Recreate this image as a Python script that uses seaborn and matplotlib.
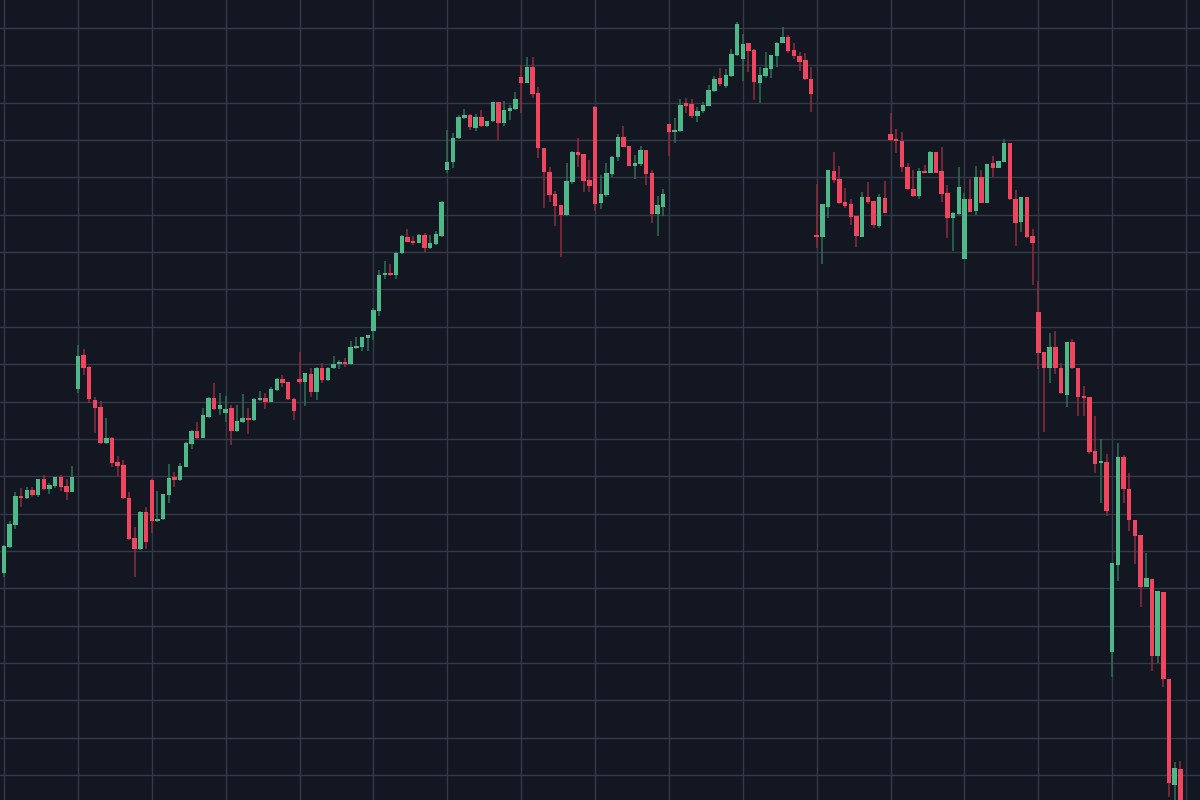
import matplotlib
matplotlib.use("Agg")
import numpy as np
import pandas as pd
import seaborn as sns
import matplotlib.pyplot as plt

opens = [
    22.73, 25.33, 27.5, 30.4, 30.2, 31.03, 30.5, 32.07, 31.07, 31.43,
    32.27, 31.43, 30.83, 41.07, 44.47, 43.33, 40.0, 39.27, 35.67, 36.2,
    33.77, 33.5, 30.23, 26.17, 25.07, 28.8, 32.0, 27.87, 28.07, 30.53,
    32.27, 32.0, 33.33, 35.6, 36.93, 36.23, 38.27, 40.23, 39.1, 38.67,
    39.2, 36.93, 37.8, 38.17, 38.0, 40.0, 40.23, 39.83, 41.0, 42.13,
    41.77, 40.13, 42.13, 41.83, 42.6, 40.83, 43.17, 42.0, 43.17, 43.6,
    43.8, 43.6, 45.2, 45.33, 46.17, 46.93, 48.9, 52.47, 52.67, 52.47,
    54.67, 56.3, 55.9, 55.73, 56.47, 55.17, 55.6, 56.43, 63.0, 63.8,
    66.23, 68.23, 68.47, 67.17, 68.33, 67.4, 67.87, 69.77, 67.67, 68.93,
    69.1, 72.33, 71.73, 73.27, 70.73, 65.17, 62.83, 60.57, 59.47, 58.47,
    61.83, 64.83, 64.6, 62.0, 69.33, 59.67, 60.5, 62.6, 64.27, 66.33,
    65.4, 63.43, 63.6, 65.0, 62.67, 58.6, 59.33, 67.57, 66.77, 66.9,
    69.53, 69.6, 68.4, 68.93, 69.43, 70.9, 72.23, 71.43, 72.4, 74.5,
    74.1, 75.7, 75.03, 71.73, 72.4, 73.1, 74.43, 75.73, 76.33, 75.03,
    74.43, 74.0, 72.1, 56.5, 56.27, 59.33, 62.93, 62.1, 59.83, 59.57,
    58.4, 56.33, 60.27, 59.93, 57.4, 60.23, 66.6, 66.1, 65.93, 63.33,
    61.07, 60.4, 62.93, 62.73, 64.8, 62.93, 60.67, 58.23, 58.6, 54.13,
    60.07, 58.9, 62.27, 59.73, 63.73, 63.23, 63.83, 65.67, 60.07, 57.8,
    60.27, 56.4, 48.77, 44.83, 43.23, 45.27, 43.23, 40.53, 45.77, 43.17,
    40.43, 40.33, 34.9, 33.67, 33.77, 14.83, 23.53, 34.33, 31.13, 28.0,
    26.5, 21.33, 22.07, 14.43, 20.83, 12.07, 1.5, 3.07,
]
highs = [
    25.5, 27.9, 30.83, 31.17, 31.33, 31.33, 32.13, 32.47, 31.67, 32.33,
    32.53, 32.07, 33.4, 45.5, 45.07, 43.4, 40.33, 39.93, 38.17, 36.3,
    34.4, 34.0, 30.77, 27.33, 28.9, 29.27, 32.1, 30.9, 30.65, 33.6,
    32.83, 33.67, 35.8, 37.0, 37.77, 39.17, 40.35, 41.73, 40.67, 40.4,
    39.5, 39.5, 40.57, 39.17, 40.2, 40.93, 40.67, 41.27, 42.2, 42.53,
    41.8, 40.2, 44.77, 42.7, 43.23, 43.33, 43.67, 43.33, 44.4, 44.0,
    44.2, 45.9, 46.27, 46.3, 46.5, 49.17, 53.0, 53.87, 53.6, 54.8,
    56.5, 57.07, 56.4, 56.6, 56.67, 56.5, 56.93, 59.9, 67.0, 66.73,
    68.5, 69.1, 68.6, 68.6, 69.0, 67.9, 69.8, 69.8, 69.93, 69.5,
    70.77, 73.5, 74.3, 74.3, 71.33, 65.2, 63.33, 60.9, 59.5, 63.67,
    64.9, 66.23, 64.65, 64.0, 69.4, 62.5, 63.73, 64.4, 66.57, 67.4,
    65.45, 64.5, 65.4, 65.05, 63.0, 60.4, 61.07, 67.6, 68.17, 70.07,
    70.17, 70.07, 69.27, 69.83, 71.5, 72.43, 73.23, 73.1, 75.07, 77.83,
    76.57, 75.75, 75.1, 73.33, 74.77, 74.55, 75.8, 77.27, 76.5, 75.67,
    74.77, 74.67, 73.33, 61.6, 59.6, 63.05, 64.83, 63.43, 61.23, 60.07,
    58.45, 60.83, 61.83, 59.95, 60.6, 61.93, 68.67, 67.07, 66.83, 63.67,
    63.0, 63.17, 63.5, 64.93, 64.85, 65.27, 61.5, 58.8, 63.27, 60.67,
    62.1, 63.4, 63.0, 63.65, 64.4, 63.95, 66.07, 65.7, 61.0, 60.3,
    60.3, 57.07, 51.93, 44.85, 46.73, 46.9, 43.67, 45.8, 46.07, 43.2,
    41.4, 40.35, 38.43, 36.07, 34.57, 23.75, 35.67, 34.5, 32.73, 28.05,
    26.55, 24.67, 22.1, 20.95, 20.85, 12.1, 3.77, 3.9,
]
lows = [
    22.27, 25.2, 27.07, 29.33, 30.13, 30.33, 30.27, 31.0, 30.6, 31.23,
    30.93, 30.0, 30.8, 40.67, 42.5, 39.73, 36.73, 35.6, 35.6, 33.33,
    32.4, 30.15, 26.0, 22.33, 25.0, 25.07, 26.73, 27.8, 28.0, 29.73,
    31.27, 31.95, 33.3, 35.1, 36.15, 36.2, 38.2, 39.0, 38.47, 37.83,
    35.5, 36.85, 37.67, 36.57, 37.93, 39.95, 39.1, 39.8, 40.95, 41.33,
    40.0, 38.0, 41.6, 39.43, 40.33, 40.0, 41.73, 41.95, 43.1, 43.1,
    43.27, 43.55, 45.15, 44.93, 44.93, 46.0, 48.4, 52.07, 52.42, 52.07,
    54.6, 55.78, 55.5, 55.68, 54.77, 55.12, 55.55, 56.27, 62.73, 63.17,
    66.07, 68.07, 66.97, 66.93, 67.27, 67.35, 67.8, 66.0, 67.4, 68.0,
    69.05, 68.67, 71.7, 70.17, 64.23, 59.23, 59.83, 57.4, 54.27, 58.45,
    61.6, 63.27, 60.83, 60.83, 58.93, 59.07, 60.33, 62.33, 63.93, 65.3,
    63.4, 62.07, 63.4, 61.5, 57.67, 56.4, 58.4, 64.4, 65.67, 66.85,
    68.73, 68.17, 67.83, 68.67, 69.4, 70.85, 71.43, 71.23, 72.35, 74.45,
    71.9, 72.77, 70.0, 69.67, 72.23, 72.17, 73.33, 75.68, 74.67, 74.1,
    72.9, 72.02, 68.83, 55.17, 53.6, 58.17, 61.67, 59.62, 59.23, 57.5,
    55.33, 56.3, 59.57, 57.17, 57.17, 58.7, 65.95, 64.67, 62.77, 61.0,
    60.35, 60.07, 62.7, 62.7, 62.7, 59.83, 56.17, 54.9, 58.55, 54.1,
    58.8, 58.5, 59.7, 59.7, 62.33, 63.2, 63.8, 60.05, 55.4, 56.83,
    56.25, 51.5, 43.07, 36.83, 41.67, 42.6, 40.65, 39.27, 43.15, 38.43,
    38.43, 34.6, 32.73, 29.73, 28.4, 12.33, 21.93, 29.73, 26.93, 23.6,
    19.33, 21.3, 12.93, 13.73, 11.33, 0.33, -1.0, -1.5,
]
closes = [
    25.4, 27.6, 30.4, 30.23, 31.03, 30.47, 32.07, 31.07, 31.53, 32.27,
    31.33, 30.83, 32.3, 44.4, 43.17, 40.07, 39.23, 35.67, 36.2, 33.7,
    33.43, 30.17, 26.1, 25.07, 28.83, 25.83, 27.93, 28.13, 30.6, 32.17,
    32.0, 33.4, 35.67, 36.93, 36.2, 38.47, 40.23, 39.1, 39.5, 39.1,
    36.93, 37.93, 38.17, 38.0, 40.13, 40.13, 39.83, 41.07, 42.13, 41.67,
    40.07, 38.93, 41.83, 42.67, 40.83, 43.17, 42.0, 43.23, 43.6, 43.8,
    43.6, 45.33, 45.43, 46.27, 46.5, 49.0, 52.5, 52.73, 52.47, 54.73,
    56.4, 55.83, 55.7, 56.47, 55.17, 55.73, 56.63, 59.83, 63.8, 66.23,
    68.27, 68.47, 67.27, 68.33, 67.4, 67.87, 69.77, 67.67, 69.0, 69.1,
    70.07, 71.67, 73.27, 70.6, 65.23, 62.77, 60.5, 59.4, 58.47, 61.9,
    64.83, 64.5, 61.93, 61.43, 59.57, 60.6, 62.67, 64.33, 66.33, 65.33,
    63.43, 63.7, 65.0, 62.6, 58.57, 59.47, 60.6, 66.77, 67.0, 69.5,
    69.43, 68.4, 68.93, 69.5, 71.0, 72.1, 71.57, 72.5, 74.57, 77.57,
    75.57, 74.93, 71.83, 72.5, 73.17, 74.5, 75.73, 76.33, 74.93, 74.4,
    73.83, 72.07, 70.57, 56.27, 59.57, 63.0, 62.0, 59.67, 59.43, 58.33,
    56.4, 60.27, 59.83, 57.5, 60.27, 58.73, 66.0, 65.9, 63.27, 61.07,
    60.4, 62.93, 62.73, 64.8, 62.73, 60.6, 58.23, 58.73, 61.27, 60.07,
    58.83, 62.33, 59.73, 63.6, 63.23, 63.9, 65.67, 60.07, 57.73, 60.27,
    56.27, 55.73, 44.73, 43.23, 45.27, 43.17, 40.67, 45.77, 43.17, 40.33,
    40.23, 34.83, 33.6, 33.87, 28.93, 23.73, 34.33, 31.07, 28.0, 26.43,
    21.33, 22.17, 14.43, 20.93, 12.13, 1.67, 3.17, -1.0,
]

BG = "#131722"
GRID = "#353a46"
UP = "#4fb889"
DOWN = "#f0455e"
UP_WICK = "#2f6e55"
DOWN_WICK = "#8f2d3e"

sns.set_theme(style="dark", rc={
    "axes.facecolor": BG,
    "figure.facecolor": BG,
    "grid.color": GRID,
    "axes.edgecolor": BG,
})

df = pd.DataFrame({"open": opens, "high": highs, "low": lows, "close": closes})
df["idx"] = np.arange(len(df))
df["up"] = df["close"] >= df["open"]
df["body_lo"] = df[["open", "close"]].min(axis=1)
df["body_h"] = (df["close"] - df["open"]).abs().clip(lower=0.22)

fig = plt.figure(figsize=(12, 8), dpi=100)
ax = fig.add_axes([0, 0, 1, 1])
ax.set_facecolor(BG)

# grid
for gx in np.arange(0, 210, 13):
    ax.axvline(gx, color=GRID, lw=1.0, zorder=0)
for gy in 2.5 + 3.735 * np.arange(0, 22):
    ax.axhline(gy, color=GRID, lw=1.0, zorder=0)

for is_up, body_c, wick_c in [(True, UP, UP_WICK), (False, DOWN, DOWN_WICK)]:
    sub = df[df["up"] == is_up]
    ax.vlines(sub["idx"], sub["low"], sub["high"], color=wick_c, lw=1.1, zorder=1)
    ax.bar(sub["idx"], sub["body_h"], bottom=sub["body_lo"], width=0.78,
           color=body_c, linewidth=0, zorder=2)

ax.set_xlim(-0.704, 210.45)
ax.set_ylim(0, 80)
ax.set_xticks([])
ax.set_yticks([])
for s in ax.spines.values():
    s.set_visible(False)

fig.savefig("out.png", dpi=100, facecolor=BG)
